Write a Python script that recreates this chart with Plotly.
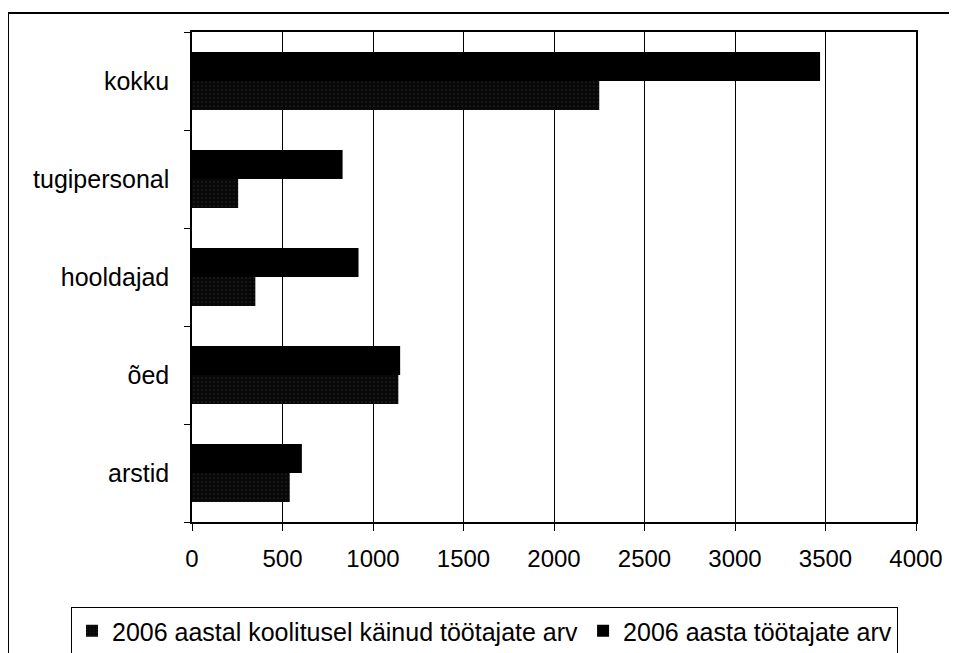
import plotly.graph_objects as go

categories = ['arstid', 'õed', 'hooldajad', 'tugipersonal', 'kokku']
koolitusel = [540, 1140, 350, 255, 2250]
tootajad = [607, 1150, 920, 832, 3470]
x_ticks = [0, 500, 1000, 1500, 2000, 2500, 3000, 3500, 4000]

FONT = 'Liberation Sans, Arial, sans-serif'

fig = go.Figure()
fig.add_trace(go.Bar(
    y=categories, x=koolitusel, orientation='h',
    name='2006 aastal koolitusel käinud töötajate arv',
    marker=dict(color='#111111', line=dict(width=0),
                pattern=dict(shape='.', fgcolor='#3c3c3c', bgcolor='#080808',
                             size=4, solidity=0.15))
))
fig.add_trace(go.Bar(
    y=categories, x=tootajad, orientation='h',
    name='2006 aasta töötajate arv',
    marker=dict(color='#000000', line=dict(width=0))
))

# page has an 8px body margin, so the figure is 8px smaller and shifted
W, H = 949, 645
L, T = 184, 24
R = W - 908
B = H - 514
pw, ph = W - L - R, H - T - B

def px(x):
    return (x - L) / pw

def py(y):
    return (H - B - y) / ph

fig.update_layout(
    width=W, height=H,
    margin=dict(l=L, r=R, t=T, b=B, autoexpand=False),
    paper_bgcolor='white', plot_bgcolor='white',
    barmode='group', bargap=0.41, bargroupgap=0,
    font=dict(family=FONT, size=24, color='black'),
    showlegend=True,
    legend=dict(orientation='h', x=px(63), y=py(599), xanchor='left', yanchor='top',
                bordercolor='black', borderwidth=1, bgcolor='white',
                font=dict(family=FONT, size=25, color='black'),
                traceorder='normal', itemwidth=30, tracegroupgap=0),
    shapes=[dict(type='rect', xref='paper', yref='paper',
                 x0=px(0), x1=px(1000), y0=py(700), y1=py(5),
                 line=dict(color='black', width=2), layer='below')],
)
fig.update_xaxes(
    range=[0, 4000], tickvals=x_ticks, ticktext=[str(v) for v in x_ticks],
    showgrid=True, gridcolor='black', gridwidth=1,
    showline=True, linecolor='black', linewidth=1.5, mirror=True,
    ticks='outside', ticklen=7, tickcolor='black', ticklabelstandoff=7,
    zeroline=False,
)
fig.update_yaxes(
    categoryorder='array', categoryarray=categories,
    showline=True, linecolor='black', linewidth=1.5, mirror=True,
    ticks='outside', ticklen=6, tickcolor='black', tickson='boundaries',
    ticklabelstandoff=16, showgrid=False, tickfont=dict(size=25),
)

fig.write_html('out.html')
